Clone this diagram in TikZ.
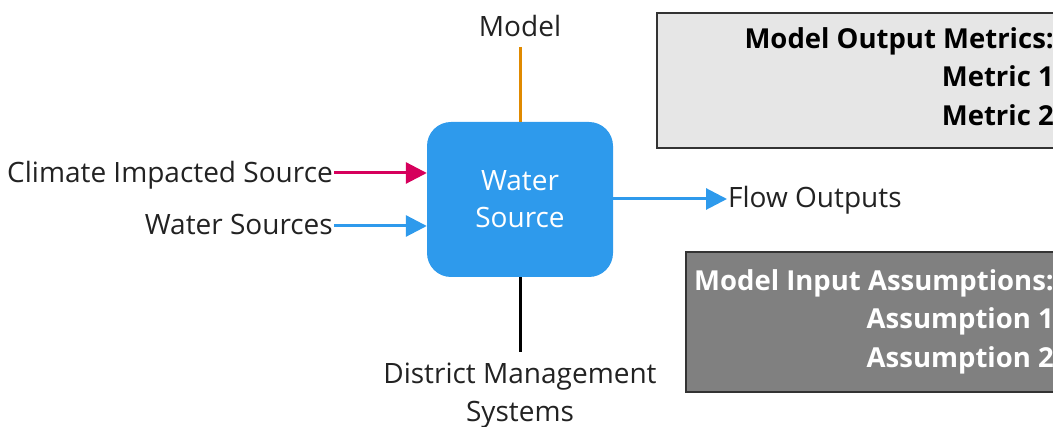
\documentclass[tikz,border=0pt]{standalone}
\usepackage{fontspec}
\setmainfont{Open Sans}
\usetikzlibrary{arrows.meta}
\definecolor{wblue}{HTML}{2E9AEC}
\definecolor{wred}{HTML}{D6005C}
\definecolor{worange}{HTML}{E08A00}
\definecolor{lgray}{HTML}{E6E6E6}
\definecolor{dgray}{HTML}{808080}
\definecolor{edgegray}{HTML}{333333}
\definecolor{txt}{HTML}{222222}
\begin{document}
\begin{tikzpicture}[x=1pt,y=-1pt,
  lbl/.style={inner sep=0pt,text=txt,font=\fontsize{28}{38}\selectfont},
  blbl/.style={inner sep=0pt,font=\fontsize{27.5}{38.5}\selectfont\bfseries,align=right},
  conn/.style={line width=3pt},
  arr/.style={line width=3pt,-{Triangle[length=21pt,width=21pt]}}]
\useasboundingbox (0,0) rectangle (1053,427);
\clip (0,0) rectangle (1053,427);
% panels
\node[draw=edgegray,line width=2pt,fill=lgray,minimum width=420pt,minimum height=135pt,anchor=north west,inner sep=0pt] (outbox) at (656,12) {};
\node[draw=edgegray,line width=2pt,fill=dgray,minimum width=400pt,minimum height=140pt,anchor=north west,inner sep=0pt] (inbox) at (685,251) {};
\node[blbl,anchor=north east,text=black] (outtxt) at (1054,27) {Model Output Metrics:\\Metric 1\\Metric 2};
\node[blbl,anchor=north east,text=white] (intxt) at (1054,269) {Model Input Assumptions:\\Assumption 1\\Assumption 2};
% central
\node[fill=wblue,rounded corners=24pt,minimum width=186pt,minimum height=155pt,inner sep=0pt,text=white,align=center,font=\fontsize{28}{37}\selectfont] (ws) at (520,199.5) {Water\\Source};
% labels
\node[lbl,anchor=south] (model) at (520,37) {Model};
\coordinate (mtop) at (520,47);
\coordinate (dbot) at (520,352);
\node[lbl,anchor=north,align=center] (dms) at (520,363) {District Management\\Systems};
\node[lbl,anchor=base east] (cis) at (333,183) {Climate Impacted Source};
\node[lbl,anchor=base east] (wsrc) at (333,235) {Water Sources};
\node[lbl,anchor=base west] (flow) at (728,208) {Flow Outputs};
\coordinate (cisend) at (334,173);
\coordinate (wsend) at (334,226);
\coordinate (flowend) at (727,199);
% connectors
\draw[conn,draw=worange] (mtop) -- (ws.north);
\draw[conn,draw=black] (ws.south) -- (dbot);
\draw[arr,draw=wred,fill=wred] (cisend) -- (cisend -| ws.west);
\draw[arr,draw=wblue,fill=wblue] (wsend) -- (wsend -| ws.west);
\draw[arr,draw=wblue,fill=wblue] (ws.east |- flowend) -- (flowend);
\end{tikzpicture}
\end{document}
